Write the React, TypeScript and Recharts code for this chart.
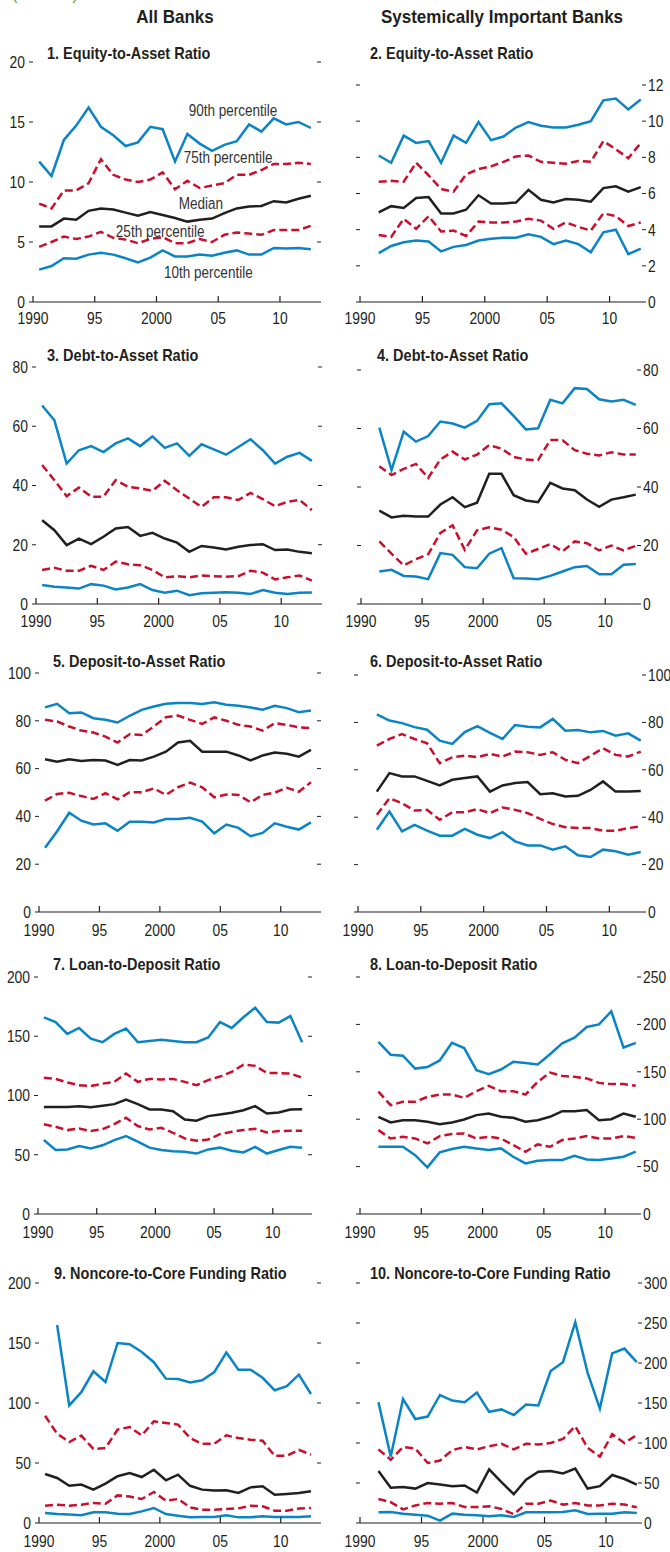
import React from "react";
import { LineChart, Line, XAxis, YAxis, ReferenceDot } from "recharts";

const FONT = "'Liberation Sans', Arial, sans-serif";
const BLUE = "#0b84c6";
const RED = "#c8102e";
const INK = "#231f20";

// years
const allYears = [1990, 1991, 1992, 1993, 1994, 1995, 1996, 1997, 1998, 1999, 2000, 2001, 2002, 2003, 2004, 2005, 2006, 2007, 2008, 2009, 2010, 2011, 2012];
const sibYears = allYears.slice(1);
const yearTicks = [1990, 1995, 2000, 2005, 2010];

// 1. Equity-to-Asset, all banks
const eqAll90 = [11.7, 10.5, 13.5, 14.7, 16.2, 14.6, 13.9, 13.0, 13.3, 14.6, 14.4, 11.7, 14.0, 13.2, 12.6, 13.1, 13.4, 14.8, 14.2, 15.3, 14.8, 15.0, 14.5];
const eqAll75 = [8.2, 7.8, 9.3, 9.3, 9.9, 11.9, 10.6, 10.2, 10.0, 10.2, 10.8, 9.4, 10.1, 9.5, 9.7, 9.9, 10.6, 10.6, 11.0, 11.5, 11.5, 11.6, 11.5];
const eqAll50 = [6.3, 6.3, 6.95, 6.85, 7.6, 7.8, 7.7, 7.45, 7.2, 7.5, 7.25, 7.0, 6.7, 6.85, 6.95, 7.4, 7.8, 7.95, 8.0, 8.4, 8.3, 8.6, 8.85];
const eqAll25 = [4.6, 5.0, 5.45, 5.25, 5.45, 5.85, 5.35, 5.2, 4.9, 5.25, 5.4, 4.9, 4.9, 5.25, 5.0, 5.6, 5.8, 5.7, 5.6, 6.0, 6.0, 6.0, 6.35];
const eqAll10 = [2.7, 3.0, 3.65, 3.6, 3.95, 4.1, 3.95, 3.65, 3.3, 3.7, 4.3, 3.8, 3.8, 3.95, 3.85, 4.1, 4.3, 3.95, 3.95, 4.5, 4.45, 4.5, 4.4];

// 2. Equity-to-Asset, SIBs
const eqSib90 = [8.1, 7.7, 9.2, 8.8, 8.9, 7.7, 9.2, 8.8, 9.95, 8.95, 9.15, 9.65, 9.95, 9.75, 9.65, 9.65, 9.8, 10.0, 11.15, 11.25, 10.65, 11.2];
const eqSib75 = [6.65, 6.7, 6.65, 7.7, 7.0, 6.25, 6.1, 7.05, 7.35, 7.5, 7.75, 8.05, 8.1, 7.75, 7.7, 7.65, 7.8, 7.75, 8.9, 8.45, 7.95, 8.8];
const eqSib50 = [4.95, 5.3, 5.2, 5.75, 5.8, 4.9, 4.9, 5.1, 5.9, 5.45, 5.45, 5.5, 6.2, 5.65, 5.5, 5.7, 5.65, 5.55, 6.3, 6.4, 6.1, 6.35];
const eqSib25 = [3.7, 3.6, 4.6, 4.05, 4.75, 3.9, 3.95, 3.65, 4.45, 4.4, 4.4, 4.45, 4.6, 4.5, 4.05, 4.4, 4.15, 3.95, 4.9, 4.75, 4.2, 4.4];
const eqSib10 = [2.7, 3.1, 3.3, 3.4, 3.35, 2.8, 3.05, 3.15, 3.4, 3.5, 3.55, 3.55, 3.75, 3.6, 3.2, 3.4, 3.2, 2.75, 3.85, 4.0, 2.65, 2.95];

// 3. Debt-to-Asset, all banks
const dtAll90 = [67, 62, 47.4, 51.9, 53.3, 51.3, 54.2, 55.9, 53.3, 56.6, 52.7, 54.2, 50, 53.9, 52.2, 50.4, 53, 55.6, 51.9, 47.4, 49.7, 51, 48.3];
const dtAll75 = [46.9, 41.8, 36.4, 39.3, 36.2, 36.2, 41.8, 39.6, 39, 38.2, 41.6, 38.4, 35.6, 32.8, 36, 36, 35.1, 37.5, 35.4, 33, 34.5, 35.1, 31.7];
const dtAll50 = [28.3, 24.9, 19.9, 22.1, 20.2, 22.7, 25.5, 26, 23, 24, 22.1, 20.7, 17.6, 19.6, 19.1, 18.4, 19.3, 19.9, 20.2, 18.2, 18.4, 17.6, 17.1];
const dtAll25 = [11.5, 12.2, 11.2, 11.2, 12.9, 11.5, 14.3, 13.4, 13.1, 11.5, 9, 9.4, 9, 9.6, 9.4, 9.2, 9.4, 11.2, 10.6, 8.3, 9, 9.6, 7.9];
const dtAll10 = [6.4, 5.8, 5.6, 5.2, 6.7, 6.2, 4.9, 5.6, 6.7, 4.7, 3.8, 4.5, 3, 3.6, 3.8, 4, 3.8, 3.4, 4.7, 3.8, 3.4, 3.8, 3.9];

// 4. Debt-to-Asset, SIBs
const dtSib90 = [60.3, 45.8, 58.9, 55.5, 57.4, 62.4, 61.7, 60.3, 62.6, 68.3, 68.6, 64.3, 59.7, 60.1, 69.8, 68.6, 73.8, 73.5, 70, 69.2, 69.8, 68.1];
const dtSib75 = [47.1, 44.1, 46.2, 47.9, 43.1, 49.4, 52.1, 49.4, 51.1, 54.3, 53.1, 50.3, 49.4, 49.2, 56.1, 56, 52.6, 51.4, 50.8, 51.9, 51.1, 51.1];
const dtSib50 = [31.9, 29.6, 30.2, 29.9, 29.9, 34, 36.5, 33.1, 34.6, 44.5, 44.5, 37.2, 35.4, 34.8, 41.4, 39.5, 38.9, 35.7, 33.2, 35.7, 36.5, 37.4];
const dtSib25 = [21.4, 17.2, 13.2, 15.3, 17, 24.3, 26.9, 18.5, 25.2, 26.2, 25.4, 22.9, 17.2, 18.8, 20.5, 18, 21.4, 20.8, 18.3, 20, 18.3, 19.9];
const dtSib10 = [11.1, 11.7, 9.6, 9.4, 8.5, 17.4, 16.8, 12.6, 12.2, 17.2, 19.1, 8.8, 8.7, 8.5, 9.6, 11.1, 12.6, 13, 10.2, 10.2, 13.4, 13.7];

// 5. Deposit-to-Asset, all banks
const dpAll90 = [85.6, 87.1, 83.2, 83.5, 81.1, 80.4, 79.3, 82.1, 84.6, 86, 87.1, 87.4, 87.4, 87, 87.8, 86.7, 86.3, 85.6, 84.6, 86.3, 85.3, 83.6, 84.3];
const dpAll75 = [80.4, 79.7, 77.6, 75.9, 75.1, 73.4, 70.9, 74.4, 74.1, 77.6, 81.5, 82.2, 80.4, 78.7, 81.4, 80, 78.3, 77.6, 75.9, 79, 78.3, 77.3, 76.9];
const dpAll50 = [63.9, 62.9, 63.9, 63.2, 63.6, 63.4, 61.5, 63.6, 63.4, 65, 67.1, 70.9, 71.6, 67.1, 67.1, 67.1, 65.5, 63.4, 65.5, 66.7, 66.2, 65, 67.8];
const dpAll25 = [46.6, 49.4, 49.9, 48.5, 47.3, 49.7, 47.1, 50.1, 50.1, 51.7, 49, 52.2, 54.1, 52.2, 48, 49.2, 49, 45.9, 49, 49.9, 52, 50.3, 54.3];
const dpAll10 = [26.9, 33.8, 41.5, 38.2, 36.6, 37.1, 34, 37.8, 37.8, 37.5, 38.9, 38.9, 39.4, 37.8, 32.9, 36.6, 35.2, 31.7, 33.1, 37.1, 35.7, 34.5, 37.5];

// 6. Deposit-to-Asset, SIBs
const dpSib90 = [83.4, 80.8, 79.7, 78, 76.9, 72.3, 70.9, 75.9, 78.4, 75.6, 73, 78.9, 78.2, 77.9, 81.5, 76.5, 76.8, 75.8, 76.4, 74.4, 75.4, 72.3];
const dpSib75 = [70.2, 73, 75.1, 73, 71.2, 62.8, 65.2, 66, 65.3, 66.7, 65.6, 67.7, 67.4, 66.3, 67.4, 64.2, 62.8, 65.9, 69.1, 66.3, 65.6, 67.7];
const dpSib50 = [50.8, 58.6, 57.2, 57.2, 55.3, 53.4, 55.8, 56.5, 57.2, 50.8, 53.4, 54.4, 54.8, 49.7, 50.1, 48.7, 49, 51.5, 55.1, 50.8, 50.8, 51.1];
const dpSib25 = [41, 48, 45.9, 42.8, 43.1, 38.9, 42.1, 42.1, 43.4, 41.7, 44.1, 43.1, 41.7, 39.3, 37.1, 35.8, 35.4, 35.4, 34.3, 34.3, 35.4, 36.1];
const dpSib10 = [34.7, 42.4, 34, 36.8, 34.3, 32.2, 32.2, 35.1, 32.6, 31.2, 33.7, 29.8, 28.1, 28.1, 26.3, 27.7, 23.9, 23.2, 26.3, 25.6, 24.2, 25.3];

// 7. Loan-to-Deposit, all banks
const ldAll90 = [166, 162, 152, 157, 148, 145, 152, 156.5, 145, 146, 147, 146, 145, 145, 149, 162, 157, 166, 174, 162, 161.5, 167, 145];
const ldAll75 = [115, 114, 111, 108.7, 108, 110, 111.5, 118.5, 111.5, 114, 113.5, 114, 111.5, 108.7, 113, 116, 120, 126, 125, 119, 119, 118.5, 115];
const ldAll50 = [90.4, 90.4, 90.4, 91, 90, 91.3, 92.7, 96.6, 92.7, 88.2, 88.2, 86.8, 79.8, 78.7, 82.6, 84, 85.4, 87.6, 91, 84.8, 85.7, 88.2, 88.5];
const ldAll25 = [75.8, 73.6, 70.8, 72.2, 70, 71.6, 75.8, 81.2, 74.2, 71.3, 72.8, 68.5, 63.8, 61.8, 62.9, 67.4, 69.4, 70.8, 71.9, 68.8, 70, 70.2, 70.2];
const ldAll10 = [62.4, 54, 54.5, 57.3, 55.3, 58, 62.4, 65.7, 61, 56, 54, 53, 52.5, 51, 54.5, 56, 53.4, 52, 56.7, 51, 54, 56.7, 56];

// 8. Loan-to-Deposit, SIBs
const ldSib90 = [181.5, 168, 167, 153.4, 155, 162, 180.5, 175, 151.7, 147.5, 152.4, 160.5, 159.4, 157.7, 168.5, 180, 186, 197.3, 200, 213.8, 175.6, 180.5];
const ldSib75 = [129, 114.8, 118.3, 118.3, 123.6, 126, 126, 122.5, 129.6, 135.2, 129.6, 129.6, 126, 139.4, 149.2, 145.7, 144.7, 143, 138.3, 137, 137, 135.2];
const ldSib50 = [102.5, 96.6, 99, 99, 97.3, 94.8, 96.6, 99.7, 104.3, 106, 102.5, 101.5, 97.3, 99, 102.5, 108.5, 108.5, 109.6, 99, 100, 106, 102.5];
const ldSib25 = [88.5, 79.7, 81.5, 79.7, 74.4, 82.2, 84.3, 85, 79.7, 81.5, 79.7, 72.7, 65.7, 73.4, 70.9, 78, 79.7, 82.2, 79.7, 79.7, 82.2, 80.4];
const ldSib10 = [71, 71, 71, 62, 49.2, 65, 68.5, 71, 69.2, 67.4, 69.2, 60.4, 53.4, 56.2, 57, 57, 61.5, 57.6, 57, 58.6, 60.4, 65.7];

// 9. Noncore-to-Core Funding, all banks
const ncAll90 = [null, 165, 98, 109, 126.4, 117.5, 150, 149, 142.5, 134, 120.3, 120, 117.2, 119, 125.8, 142, 127.8, 127.8, 121, 110.6, 114, 123.6, 107.5];
const ncAll75 = [89.4, 74.4, 67.5, 72.8, 61.7, 62.5, 77.8, 80, 73, 84.7, 83.3, 82, 70.8, 66, 66, 73, 70.8, 69.4, 68.6, 56, 56, 61, 57];
const ncAll50 = [40.8, 37.5, 31, 32, 27.8, 32.8, 39, 41.7, 38.3, 44.4, 35.6, 40.3, 31, 27.8, 27, 27.2, 25, 29.7, 30.6, 23.6, 24.2, 25, 26.4];
const ncAll25 = [14.4, 15.3, 14.4, 15.3, 16.7, 16, 23, 22, 20, 25.8, 18.6, 20, 13, 11, 11, 11.7, 12.2, 14.4, 13.9, 10.3, 10.3, 12, 12.5];
const ncAll10 = [8.3, 7.5, 7, 6.4, 9, 9, 7.8, 7.5, 9.7, 12.5, 7.5, 6, 4.7, 5, 5, 6.4, 4.7, 4.7, 5.6, 5, 5, 5, 5.6];

// 10. Noncore-to-Core Funding, SIBs
const ncSib90 = [151, 83, 155, 130, 133, 160, 153, 151, 163, 139, 142, 135, 148, 147, 190, 201, 251, 188, 143, 212, 218, 201];
const ncSib75 = [92, 79, 95, 93, 75, 78, 91, 95, 92, 96, 99, 92, 99, 98, 100, 105, 121, 94, 83, 111, 100, 110];
const ncSib50 = [65, 44, 45, 43, 50, 48, 46, 47, 38, 67, 51, 36, 54, 64, 65, 62, 68, 43, 46, 60, 55, 48];
const ncSib25 = [30, 26, 17, 22, 25, 24, 25, 20, 20, 21, 17.5, 11, 24, 24, 28, 23, 25, 22, 22, 24, 23, 19.6];
const ncSib10 = [13.3, 13.8, 11.7, 10.4, 9.2, 3, 11.7, 10.4, 9.6, 8.3, 9.6, 7.5, 13.3, 13.3, 13.3, 13.8, 15.8, 11.3, 11.7, 11.7, 13.3, 12.5];

// line labels in panel 1 (axis units)
const pctLabels = [
  { text: "90th percentile", x: 2006.2, y: 16.0 },
  { text: "75th percentile", x: 2005.8, y: 12.1 },
  { text: "Median", x: 2003.6, y: 8.2 },
  { text: "25th percentile", x: 2000.3, y: 5.9 },
  { text: "10th percentile", x: 2004.2, y: 2.5 },
];

type Series = (number | null)[];
type PanelCfg = {
  title: string;
  years: number[];
  s: Series[];
  yMax: number;
  yStep: number;
  side: "left" | "right";
  box: { l: number; r: number; t: number; b: number };
  titlePos: { x: number; y: number };
  xMax: number;
  xGap: number;
  labels?: boolean;
};

const panels: PanelCfg[] = [
  { title: "1. Equity-to-Asset Ratio", years: allYears, s: [eqAll90, eqAll75, eqAll50, eqAll25, eqAll10], yMax: 20, yStep: 5, side: "left", box: { l: 33, r: 317, t: 62, b: 302 }, titlePos: { x: 47, y: 53 }, xMax: 2013, xGap: 16, labels: true },
  { title: "2. Equity-to-Asset Ratio", years: sibYears, s: [eqSib90, eqSib75, eqSib50, eqSib25, eqSib10], yMax: 12, yStep: 2, side: "right", box: { l: 360, r: 642, t: 85, b: 302 }, titlePos: { x: 370, y: 53 }, xMax: 2012.6, xGap: 16 },
  { title: "3. Debt-to-Asset Ratio", years: allYears, s: [dtAll90, dtAll75, dtAll50, dtAll25, dtAll10], yMax: 80, yStep: 20, side: "left", box: { l: 36, r: 318, t: 367, b: 604 }, titlePos: { x: 47, y: 355 }, xMax: 2013, xGap: 17 },
  { title: "4. Debt-to-Asset Ratio", years: sibYears, s: [dtSib90, dtSib75, dtSib50, dtSib25, dtSib10], yMax: 80, yStep: 20, side: "right", box: { l: 361, r: 637, t: 370, b: 604 }, titlePos: { x: 377, y: 355 }, xMax: 2012.6, xGap: 17 },
  { title: "5. Deposit-to-Asset Ratio", years: allYears, s: [dpAll90, dpAll75, dpAll50, dpAll25, dpAll10], yMax: 100, yStep: 20, side: "left", box: { l: 39, r: 317, t: 673, b: 912 }, titlePos: { x: 53, y: 661 }, xMax: 2013, xGap: 18 },
  { title: "6. Deposit-to-Asset Ratio", years: sibYears, s: [dpSib90, dpSib75, dpSib50, dpSib25, dpSib10], yMax: 100, yStep: 20, side: "right", box: { l: 358, r: 642, t: 675, b: 912 }, titlePos: { x: 370, y: 661 }, xMax: 2012.6, xGap: 18 },
  { title: "7. Loan-to-Deposit Ratio", years: allYears, s: [ldAll90, ldAll75, ldAll50, ldAll25, ldAll10], yMax: 200, yStep: 50, side: "left", box: { l: 38, r: 308, t: 977, b: 1214 }, titlePos: { x: 53, y: 964 }, xMax: 2013, xGap: 18 },
  { title: "8. Loan-to-Deposit Ratio", years: sibYears, s: [ldSib90, ldSib75, ldSib50, ldSib25, ldSib10], yMax: 250, yStep: 50, side: "right", box: { l: 360, r: 637, t: 977, b: 1214 }, titlePos: { x: 370, y: 964 }, xMax: 2012.6, xGap: 18 },
  { title: "9. Noncore-to-Core Funding Ratio", years: allYears, s: [ncAll90, ncAll75, ncAll50, ncAll25, ncAll10], yMax: 200, yStep: 50, side: "left", box: { l: 39, r: 317, t: 1283, b: 1523 }, titlePos: { x: 54, y: 1273 }, xMax: 2013, xGap: 18 },
  { title: "10. Noncore-to-Core Funding Ratio", years: sibYears, s: [ncSib90, ncSib75, ncSib50, ncSib25, ncSib10], yMax: 300, yStep: 50, side: "right", box: { l: 360, r: 638, t: 1283, b: 1523 }, titlePos: { x: 370, y: 1273 }, xMax: 2012.6, xGap: 18 },
];

const keys = ["p90", "p75", "p50", "p25", "p10"];
const styles = [
  { stroke: BLUE, dash: undefined },
  { stroke: RED, dash: "8 4" },
  { stroke: INK, dash: undefined },
  { stroke: RED, dash: "8 4" },
  { stroke: BLUE, dash: undefined },
];

const fmtYear = (v: number) => (v === 1990 || v === 2000 ? String(v) : String(v % 100).padStart(2, "0"));

// condensed text: regular face squeezed horizontally
const SX = 0.84;
const TICK_SIZE = 16.5;

function XTick(props: any) {
  const { x, y, payload } = props;
  return (
    <text transform={`translate(${x},${y}) scale(${SX},1)`} textAnchor="middle" dy="0.71em" fontSize={TICK_SIZE} fill={INK} fontFamily={FONT}>
      {fmtYear(payload.value)}
    </text>
  );
}

function YTick(props: any) {
  const { x, y, payload, textAnchor } = props;
  return (
    <text transform={`translate(${x},${y}) scale(${SX},1)`} textAnchor={textAnchor} dy="0.355em" fontSize={TICK_SIZE} fill={INK} fontFamily={FONT}>
      {payload.value}
    </text>
  );
}

const NoTick = () => <g />;

function PctLabel(text: string) {
  return (props: any) => (
    <text transform={`translate(${props.cx},${props.cy}) scale(0.83,1)`} textAnchor="middle" dy="0.355em" fontSize={16.3} fill="#333" fontFamily={FONT}>
      {text}
    </text>
  );
}

const AX = 44;
const TOP = 10;
const XH = 34;

function Panel({ cfg }: { cfg: PanelCfg }) {
  const { box } = cfg;
  const w = box.r - box.l + 2 * AX;
  const h = box.b - box.t + TOP + XH;
  const data = cfg.years.map((y, i) => {
    const row: Record<string, number | null> = { x: y + 0.5 };
    keys.forEach((k, j) => (row[k] = cfg.s[j][i]));
    return row;
  });
  const yTicks: number[] = [];
  for (let v = 0; v <= cfg.yMax; v += cfg.yStep) yTicks.push(v);
  return (
    <div style={{ position: "absolute", left: box.l - AX, top: box.t - TOP }}>
      <LineChart width={w} height={h} data={data} margin={{ top: TOP, right: 0, bottom: 0, left: 0 }}>
        <XAxis
          dataKey="x"
          type="number"
          domain={[1990, cfg.xMax]}
          ticks={yearTicks}
          allowDataOverflow
          height={XH}
          axisLine={{ stroke: INK, strokeWidth: 1.2 }}
          tickLine={{ stroke: INK, strokeWidth: 1.2 }}
          tickSize={-6}
          tickMargin={cfg.xGap}
          tick={<XTick />}
          interval={0}
        />
        <YAxis
          yAxisId="l"
          orientation="left"
          width={AX}
          domain={[0, cfg.yMax]}
          ticks={yTicks}
          interval={0}
          allowDataOverflow
          axisLine={false}
          tickLine={{ stroke: INK }}
          tickSize={4}
          tickMargin={4}
          tick={cfg.side === "left" ? <YTick /> : <NoTick />}
        />
        <YAxis
          yAxisId="r"
          orientation="right"
          width={AX}
          domain={[0, cfg.yMax]}
          ticks={yTicks}
          interval={0}
          allowDataOverflow
          axisLine={false}
          tickLine={{ stroke: INK }}
          tickSize={4}
          tickMargin={2}
          tick={cfg.side === "right" ? <YTick /> : <NoTick />}
        />
        {/* keeps the right-hand axis bound to data so it is drawn */}
        <Line yAxisId="r" dataKey="p50" stroke="none" strokeWidth={0} dot={false} activeDot={false} isAnimationActive={false} />
        {keys.map((k, j) => (
          <Line
            key={k}
            yAxisId="l"
            type="linear"
            dataKey={k}
            stroke={styles[j].stroke}
            strokeDasharray={styles[j].dash}
            strokeWidth={2.5}
            dot={false}
            activeDot={false}
            isAnimationActive={false}
          />
        ))}
        {cfg.labels &&
          pctLabels.map((lb) => (
            <ReferenceDot key={lb.text} yAxisId="l" x={lb.x} y={lb.y} r={0} shape={PctLabel(lb.text)} />
          ))}
      </LineChart>
    </div>
  );
}

export default function App() {
  const head = { position: "absolute" as const, fontFamily: FONT, fontWeight: 700, color: INK, whiteSpace: "nowrap" as const, lineHeight: 1 };
  return (
    <div style={{ position: "absolute", left: 0, top: 0, width: 670, height: 1552, background: "#fff", overflow: "hidden" }}>
      <div style={{ ...head, fontWeight: 400, color: "#5aa845", fontSize: 16, left: 12, top: -13 }}>(Percent)</div>
      <div style={{ ...head, fontSize: 18.5, left: 175, top: 17, transform: "translate(-50%, -50%) scaleX(0.92)" }}>All Banks</div>
      <div style={{ ...head, fontSize: 18.5, left: 502, top: 17, transform: "translate(-50%, -50%) scaleX(0.92)" }}>Systemically Important Banks</div>
      {panels.map((p) => (
        <div
          key={p.title + p.side}
          style={{ ...head, fontSize: 16.3, left: p.titlePos.x, top: p.titlePos.y, transformOrigin: "0 50%", transform: "translateY(-50%) scaleX(0.89)" }}
        >
          {p.title}
        </div>
      ))}
      {panels.map((p) => (
        <Panel key={p.title + p.side + "c"} cfg={p} />
      ))}
    </div>
  );
}
